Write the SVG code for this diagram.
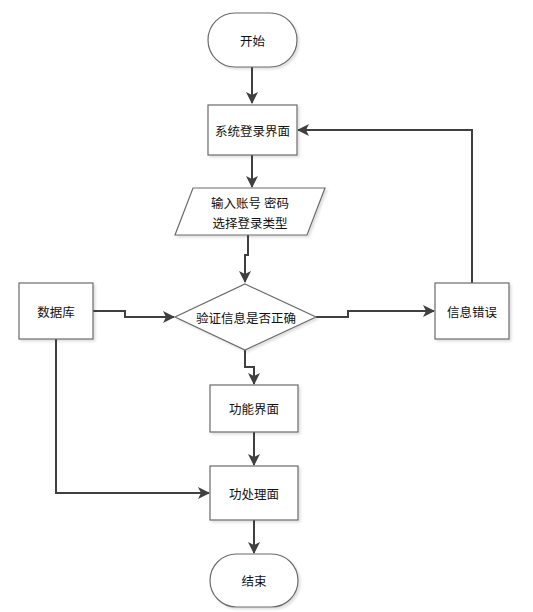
<svg xmlns="http://www.w3.org/2000/svg" width="533" height="612" viewBox="0 0 533 612">
<style>
.shape{fill:#fff;stroke:#6b6b6b;stroke-width:1.2;filter:url(#sh)}
.lbl{font-family:"Noto Sans CJK SC","Liberation Sans",sans-serif;font-size:12.5px;fill:#111;text-anchor:middle;dominant-baseline:central}
.conn{fill:none;stroke:#404040;stroke-width:2}
</style>
<defs>
<filter id="sh" x="-10%" y="-10%" width="130%" height="130%">
<feDropShadow dx="2" dy="2" stdDeviation="1" flood-color="#000" flood-opacity="0.12"/>
</filter>
<marker id="ah" markerUnits="userSpaceOnUse" markerWidth="12" markerHeight="12" refX="11" refY="6" orient="auto">
<path d="M0,0 L12,6 L0,12 L3,6 Z" fill="#404040"/>
</marker>
</defs>
<rect width="533" height="612" fill="#fff"/>
<g id="connectors">
<path class="conn" d="M252,67 V103" marker-end="url(#ah)"/>
<path class="conn" d="M252,155 V187" marker-end="url(#ah)"/>
<path class="conn" d="M248,235 V255 H245 V282" marker-end="url(#ah)"/>
<path class="conn" d="M245,350 V367 H254 V384" marker-end="url(#ah)"/>
<path class="conn" d="M254,432 V465" marker-end="url(#ah)"/>
<path class="conn" d="M254,520 V553" marker-end="url(#ah)"/>
<path class="conn" d="M93,311 H125 V317 H174" marker-end="url(#ah)"/>
<path class="conn" d="M56,339 V493 H209" marker-end="url(#ah)"/>
<path class="conn" d="M316,317 H348 V311 H434" marker-end="url(#ah)"/>
<path class="conn" d="M472,283 V130 H298" marker-end="url(#ah)"/>
</g>
<g id="start">
<rect class="shape" x="208" y="13" width="89" height="54" rx="27" ry="27"/>
<text class="lbl" x="252.5" y="40">开始</text>
</g>
<g id="login">
<rect class="shape" x="208" y="105" width="89" height="50"/>
<text class="lbl" x="252.5" y="130">系统登录界面</text>
</g>
<g id="input">
<polygon class="shape" points="193,188 325,188 307,235 175,235"/>
<text class="lbl" x="250" y="202">输入账号 密码</text>
<text class="lbl" x="250" y="222">选择登录类型</text>
</g>
<g id="verify">
<polygon class="shape" points="245,284 316,317 245,350 175,317"/>
<text class="lbl" x="246" y="317">验证信息是否正确</text>
</g>
<g id="db">
<rect class="shape" x="19" y="283" width="74" height="56"/>
<text class="lbl" x="56" y="311">数据库</text>
</g>
<g id="error">
<rect class="shape" x="435" y="283" width="74" height="56"/>
<text class="lbl" x="472" y="311">信息错误</text>
</g>
<g id="func">
<rect class="shape" x="210" y="385" width="88" height="47"/>
<text class="lbl" x="254" y="408.5">功能界面</text>
</g>
<g id="process">
<rect class="shape" x="210" y="466" width="88" height="54"/>
<text class="lbl" x="254" y="493">功处理面</text>
</g>
<g id="end">
<rect class="shape" x="210" y="554" width="88" height="53" rx="26.5" ry="26.5"/>
<text class="lbl" x="254" y="580.5">结束</text>
</g>
</svg>
